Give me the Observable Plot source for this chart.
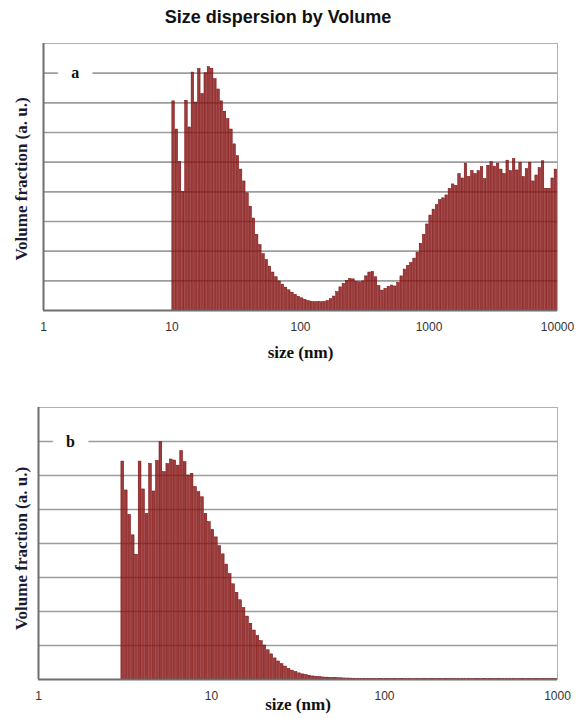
<!DOCTYPE html>
<html><head><meta charset="utf-8">
<script src="https://cdn.jsdelivr.net/npm/d3@7"></script>
<script src="https://cdn.jsdelivr.net/npm/@observablehq/plot@0.6"></script>
<style>
body{margin:0;background:#fff;width:576px;height:719px;position:relative;overflow:hidden}
#title{position:absolute;left:0;top:7px;width:556px;text-align:center;font:bold 18px "Liberation Sans",Arial,sans-serif;color:#111;line-height:20px}
#chartA{position:absolute;left:0;top:0}
#chartB{position:absolute;left:0;top:375px}
</style></head><body>
<div id="chartA"></div><div id="chartB"></div><div id="title">Size dispersion by Volume</div>
<script>
// ---- data ----
const titleText = "Size dispersion by Volume";
const xTitle = "size (nm)";
const yTitle = "Volume fraction (a. u.)";

// panel a: bins from 10 nm to 10000 nm (log spaced instrument classes)
const sizeRangeA = [10, 10000];
const volumeA = [
7.05,6.1,5.0,4.0,7.07,6.17,8.02,7.01,8.14,7.3,
8.0,8.2,8.15,7.8,7.45,7.05,6.7,6.45,6.1,5.6,
5.2,4.75,4.35,3.95,3.5,3.1,2.55,2.2,1.9,1.7,
1.48,1.28,1.12,0.98,0.87,0.77,0.68,0.6,0.53,0.46,
0.41,0.36,0.32,0.29,0.28,0.28,0.28,0.29,0.32,0.38,
0.47,0.62,0.78,0.9,1.0,1.06,1.05,0.97,0.95,0.98,
1.15,1.28,1.3,1.12,0.82,0.67,0.73,0.8,0.84,0.81,
0.93,1.15,1.38,1.5,1.6,1.75,1.95,2.25,2.55,2.9,
3.2,3.4,3.55,3.72,3.78,3.88,4.1,4.25,4.2,4.6,
4.45,4.95,4.5,4.7,4.6,4.7,4.83,4.43,4.88,5.0,
4.85,4.95,4.75,4.6,5.05,4.7,5.1,4.72,4.98,4.5,
4.77,4.98,4.35,4.55,4.8,5.03,4.1,4.1,4.45,4.75
];
const ticksA = [1, 10, 100, 1000, 10000];
const gridA = [1, 2, 3, 4, 5, 6, 7, 8];
const yMaxA = 9;

// panel b: bins from 3 nm to 1000 nm
const sizeRangeB = [3, 1000];
const volumeB = [
6.41,5.56,4.84,4.24,3.67,6.41,5.59,4.87,6.34,5.53,
6.43,6.98,6.1,6.34,6.47,6.44,6.29,6.72,6.39,6.0,
6.05,5.66,5.51,5.36,4.87,4.63,4.4,4.18,3.92,3.68,
3.38,3.1,2.8,2.55,2.33,2.1,1.85,1.64,1.44,1.28,
1.13,1.0,0.86,0.74,0.62,0.53,0.45,0.38,0.31,0.26,
0.22,0.18,0.15,0.13,0.11,0.09,0.08,0.07,0.06,0.055,
0.05,0.045,0.04,0.036,0.032,0.029,0.026,0.023,0.021,0.019,
0.018,0.017,0.016,0.015,0.014,0.014,0.013,0.013,0.012,0.012,
0.011,0.011,0.011,0.011,0.011,0.011,0.01,0.01,0.01,0.01,
0.01,0.01,0.01,0.01,0.01,0.01,0.01,0.01,0.01,0.01,
0.01,0.01,0.01,0.01,0.01,0.01,0.01,0.01,0.01,0.01,
0.01,0.01,0.01,0.01,0.01,0.01,0.01,0.01,0.01,0.01,
0.01,0.01,0.01,0.01,0.01,0.01
];
const ticksB = [1, 10, 100, 1000];
const gridB = [1, 2, 3, 4, 5, 6, 7];
const yMaxB = 8;

const panelLabels = ["a", "b"];
const labelSizes = [1.77, 1.53];
const labelValues = [8, 7];

// ---- build ----
function bins(range, values) {
  const l0 = Math.log10(range[0]), l1 = Math.log10(range[1]);
  const w = (l1 - l0) / values.length;
  return values.map((v, i) => ({x1: 10 ** (l0 + i * w), x2: 10 ** (l0 + (i + 1) * w), v}));
}
const serif = "'Liberation Serif','Times New Roman',serif";
const sans = "'Liberation Sans',Arial,sans-serif";

function panel({range, values, ticks, grid, yMax, label, lsize, lval, width, height, mt, mb, ml, mr, tickPad, xdy, ydy}) {
  const data = bins(range, values);
  return Plot.plot({
    width, height, marginTop: mt, marginBottom: mb, marginLeft: ml, marginRight: mr,
    style: {background: "transparent", overflow: "visible"},
    x: {type: "log", domain: [ticks[0], ticks[ticks.length - 1]]},
    y: {domain: [0, yMax], axis: null},
    marks: [
      Plot.ruleY(grid, {stroke: "#9c9c9c", strokeWidth: 1.6}),
      Plot.frame({stroke: "#b0b0b0", strokeWidth: 1}),
      Plot.rectY(data, {x1: "x1", x2: "x2", y: "v", fill: "#8b1a1a", fillOpacity: 0.85,
        stroke: "#7a0606", strokeWidth: 0.5, insetLeft: 0.35, insetRight: 0.35}),
      Plot.ruleX([ticks[0]], {stroke: "#6f6f6f", strokeWidth: 2}),
      Plot.ruleY([0], {stroke: "#6f6f6f", strokeWidth: 2}),
      Plot.axisX({ticks, tickFormat: d => String(d), tickSize: 0, tickPadding: tickPad,
        fontSize: 12, fontFamily: sans, fill: "#333", label: null}),
      Plot.text([xTitle], {frameAnchor: "bottom", dy: xdy, fontFamily: serif, fontWeight: "bold",
        fontSize: 17, fill: "#111"}),
      Plot.text([yTitle], {frameAnchor: "left", rotate: -90, textAnchor: "middle", dx: -ml + 21, dy: ydy,
        fontFamily: serif, fontWeight: "bold", fontSize: 17, fill: "#1a1a33"}),
      Plot.text([label], {x: () => lsize, y: () => lval, text: d => d, fontFamily: serif, fontWeight: "bold",
        fontSize: 16, fill: "#111", stroke: "white", strokeWidth: 28, paintOrder: "stroke", strokeLinejoin: "round"})
    ]
  });
}

document.getElementById("title").textContent = titleText;
document.getElementById("chartA").append(panel({
  range: sizeRangeA, values: volumeA, ticks: ticksA, grid: gridA, yMax: yMaxA,
  label: panelLabels[0], lsize: labelSizes[0], lval: labelValues[0],
  width: 576, height: 375, mt: 43, mb: 65, ml: 43, mr: 19, tickPad: 12, xdy: 47, ydy: 2
}));
document.getElementById("chartB").append(panel({
  range: sizeRangeB, values: volumeB, ticks: ticksB, grid: gridB, yMax: yMaxB,
  label: panelLabels[1], lsize: labelSizes[1], lval: labelValues[1],
  width: 576, height: 344, mt: 32, mb: 40, ml: 38, mr: 19, tickPad: 12, xdy: 30, ydy: 5
}));
</script>
</body></html>
